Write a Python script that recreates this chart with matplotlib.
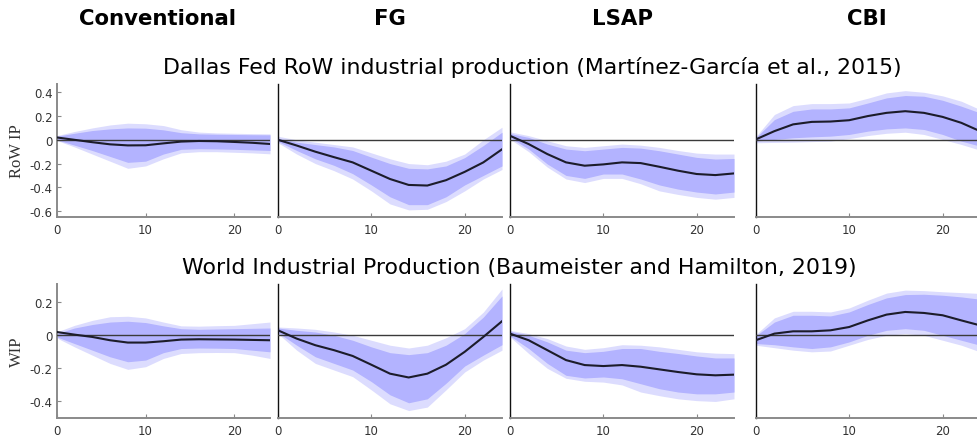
import matplotlib
matplotlib.use("Agg")
import matplotlib.pyplot as plt

# Horizons at which responses are reported
horizons = [0, 2, 4, 6, 8, 10, 12, 14, 16, 18, 20, 22, 24]

shocks = ["Conventional", "FG", "LSAP", "CBI"]
row_titles = ["Dallas Fed RoW industrial production (Martínez-García et al., 2015)",
              "World Industrial Production (Baumeister and Hamilton, 2019)"]
row_ylabels = ["RoW IP", "WIP"]

# ---- RoW IP responses: median, 68% band, 90% band ----
rowip_conv_med = [0.02, 0.0, -0.02, -0.038, -0.047, -0.046, -0.03, -0.015, -0.01, -0.012, -0.018, -0.025, -0.035]
rowip_conv_in_lo = [0.0, -0.045, -0.09, -0.14, -0.19, -0.18, -0.12, -0.08, -0.075, -0.077, -0.08, -0.085, -0.09]
rowip_conv_in_hi = [0.03, 0.055, 0.078, 0.092, 0.10, 0.098, 0.084, 0.06, 0.05, 0.047, 0.045, 0.043, 0.042]
rowip_conv_out_lo = [-0.005, -0.06, -0.12, -0.18, -0.24, -0.22, -0.16, -0.11, -0.10, -0.10, -0.105, -0.11, -0.118]
rowip_conv_out_hi = [0.035, 0.07, 0.10, 0.125, 0.14, 0.135, 0.12, 0.085, 0.065, 0.058, 0.055, 0.052, 0.05]

rowip_fg_med = [0.0, -0.048, -0.10, -0.146, -0.19, -0.26, -0.33, -0.38, -0.385, -0.34, -0.27, -0.19, -0.08]
rowip_fg_in_lo = [-0.014, -0.09, -0.16, -0.215, -0.285, -0.38, -0.48, -0.546, -0.546, -0.48, -0.38, -0.30, -0.22]
rowip_fg_in_hi = [0.014, -0.02, -0.04, -0.06, -0.09, -0.146, -0.20, -0.24, -0.245, -0.22, -0.15, -0.048, 0.064]
rowip_fg_out_lo = [-0.025, -0.12, -0.20, -0.26, -0.33, -0.43, -0.54, -0.59, -0.585, -0.52, -0.43, -0.33, -0.25]
rowip_fg_out_hi = [0.03, 0.0, -0.02, -0.04, -0.06, -0.11, -0.16, -0.20, -0.21, -0.18, -0.12, 0.0, 0.106]

rowip_lsap_med = [0.034, -0.036, -0.12, -0.19, -0.218, -0.207, -0.19, -0.196, -0.227, -0.26, -0.288, -0.297, -0.283]
rowip_lsap_in_lo = [0.02, -0.078, -0.204, -0.30, -0.325, -0.288, -0.288, -0.33, -0.38, -0.415, -0.44, -0.456, -0.44]
rowip_lsap_in_hi = [0.053, 0.02, -0.036, -0.078, -0.092, -0.078, -0.064, -0.07, -0.092, -0.12, -0.148, -0.162, -0.157]
rowip_lsap_out_lo = [0.006, -0.10, -0.23, -0.33, -0.36, -0.325, -0.325, -0.37, -0.43, -0.46, -0.485, -0.50, -0.485]
rowip_lsap_out_hi = [0.067, 0.035, -0.008, -0.05, -0.064, -0.05, -0.036, -0.045, -0.064, -0.09, -0.112, -0.12, -0.12]

rowip_cbi_med = [0.003, 0.073, 0.13, 0.151, 0.154, 0.165, 0.20, 0.227, 0.241, 0.227, 0.193, 0.143, 0.073]
rowip_cbi_in_lo = [-0.011, 0.003, 0.017, 0.025, 0.031, 0.045, 0.073, 0.092, 0.10, 0.087, 0.045, -0.011, -0.053]
rowip_cbi_in_hi = [0.017, 0.17, 0.24, 0.26, 0.26, 0.269, 0.31, 0.353, 0.373, 0.367, 0.333, 0.283, 0.227]
rowip_cbi_out_lo = [-0.025, -0.022, -0.02, -0.015, -0.011, 0.01, 0.036, 0.055, 0.064, 0.045, 0.003, -0.039, -0.087]
rowip_cbi_out_hi = [0.025, 0.213, 0.288, 0.305, 0.305, 0.31, 0.35, 0.395, 0.414, 0.40, 0.37, 0.325, 0.255]

# ---- WIP responses: median, 68% band, 90% band ----
wip_conv_med = [0.02, 0.004, -0.01, -0.03, -0.044, -0.044, -0.036, -0.026, -0.024, -0.025, -0.026, -0.028, -0.03]
wip_conv_in_lo = [-0.01, -0.05, -0.09, -0.13, -0.16, -0.15, -0.105, -0.08, -0.077, -0.078, -0.08, -0.09, -0.10]
wip_conv_in_hi = [0.01, 0.044, 0.065, 0.08, 0.085, 0.077, 0.057, 0.04, 0.036, 0.038, 0.04, 0.042, 0.044]
wip_conv_out_lo = [-0.016, -0.07, -0.12, -0.17, -0.206, -0.19, -0.14, -0.11, -0.105, -0.104, -0.105, -0.12, -0.14]
wip_conv_out_hi = [0.02, 0.06, 0.09, 0.112, 0.115, 0.105, 0.08, 0.057, 0.055, 0.058, 0.06, 0.07, 0.08]

wip_fg_med = [0.03, -0.02, -0.06, -0.09, -0.125, -0.178, -0.232, -0.255, -0.232, -0.178, -0.10, -0.01, 0.085]
wip_fg_in_lo = [0.016, -0.06, -0.13, -0.17, -0.21, -0.28, -0.36, -0.408, -0.384, -0.29, -0.186, -0.12, -0.057]
wip_fg_in_hi = [0.044, 0.03, 0.02, 0.0, -0.03, -0.07, -0.105, -0.117, -0.105, -0.06, 0.01, 0.11, 0.238]
wip_fg_out_lo = [0.01, -0.09, -0.17, -0.21, -0.25, -0.33, -0.414, -0.455, -0.434, -0.33, -0.222, -0.15, -0.09]
wip_fg_out_hi = [0.05, 0.044, 0.036, 0.02, 0.0, -0.03, -0.06, -0.077, -0.06, -0.015, 0.04, 0.14, 0.28]

wip_lsap_med = [0.01, -0.03, -0.09, -0.15, -0.18, -0.186, -0.18, -0.19, -0.206, -0.222, -0.236, -0.242, -0.238]
wip_lsap_in_lo = [-0.004, -0.08, -0.17, -0.242, -0.258, -0.252, -0.263, -0.293, -0.323, -0.343, -0.354, -0.354, -0.343]
wip_lsap_in_hi = [0.024, 0.0, -0.04, -0.09, -0.105, -0.097, -0.08, -0.08, -0.097, -0.11, -0.125, -0.137, -0.137]
wip_lsap_out_lo = [-0.01, -0.11, -0.20, -0.26, -0.278, -0.283, -0.30, -0.343, -0.365, -0.384, -0.395, -0.40, -0.384]
wip_lsap_out_hi = [0.03, 0.01, -0.02, -0.065, -0.085, -0.075, -0.057, -0.06, -0.07, -0.085, -0.10, -0.108, -0.111]

wip_cbi_med = [-0.03, 0.01, 0.024, 0.024, 0.03, 0.05, 0.09, 0.125, 0.141, 0.135, 0.121, 0.09, 0.06]
wip_cbi_in_lo = [-0.05, -0.057, -0.07, -0.08, -0.07, -0.04, 0.0, 0.03, 0.04, 0.03, 0.0, -0.03, -0.06]
wip_cbi_in_hi = [-0.004, 0.08, 0.121, 0.121, 0.117, 0.141, 0.186, 0.226, 0.246, 0.248, 0.242, 0.232, 0.218]
wip_cbi_out_lo = [-0.06, -0.075, -0.09, -0.10, -0.095, -0.06, -0.025, 0.0, 0.01, 0.0, -0.03, -0.06, -0.10]
wip_cbi_out_hi = [0.004, 0.105, 0.145, 0.145, 0.141, 0.165, 0.212, 0.255, 0.273, 0.27, 0.263, 0.258, 0.253]

rows = [
    [
        (rowip_conv_med, rowip_conv_in_lo, rowip_conv_in_hi, rowip_conv_out_lo, rowip_conv_out_hi),
        (rowip_fg_med, rowip_fg_in_lo, rowip_fg_in_hi, rowip_fg_out_lo, rowip_fg_out_hi),
        (rowip_lsap_med, rowip_lsap_in_lo, rowip_lsap_in_hi, rowip_lsap_out_lo, rowip_lsap_out_hi),
        (rowip_cbi_med, rowip_cbi_in_lo, rowip_cbi_in_hi, rowip_cbi_out_lo, rowip_cbi_out_hi),
    ],
    [
        (wip_conv_med, wip_conv_in_lo, wip_conv_in_hi, wip_conv_out_lo, wip_conv_out_hi),
        (wip_fg_med, wip_fg_in_lo, wip_fg_in_hi, wip_fg_out_lo, wip_fg_out_hi),
        (wip_lsap_med, wip_lsap_in_lo, wip_lsap_in_hi, wip_lsap_out_lo, wip_lsap_out_hi),
        (wip_cbi_med, wip_cbi_in_lo, wip_cbi_in_hi, wip_cbi_out_lo, wip_cbi_out_hi),
    ],
]

row_ylims = [(-0.65, 0.47), (-0.5, 0.31)]
row_yticks = [[-0.6, -0.4, -0.2, 0, 0.2, 0.4], [-0.4, -0.2, 0, 0.2]]

W, H = 977, 439
fig = plt.figure(figsize=(W / 100, H / 100), dpi=100)

col_px = [(56.7, 270.0), (278.0, 502.0), (510.0, 734.0), (755.7, 980.0)]
row_px = [(85.0, 218.0), (285.0, 419.0)]

inner_col = "#b3b3ff"
outer_col = "#dcdcfe"
axis_grey = "#8a8a8a"

for r in range(2):
    y0, y1 = row_px[r]
    for c in range(4):
        x0, x1 = col_px[c]
        ax = fig.add_axes([x0 / W, 1 - y1 / H, (x1 - x0) / W, (y1 - y0) / H])
        med, ilo, ihi, olo, ohi = rows[r][c]
        ax.fill_between(horizons, olo, ohi, color=outer_col, lw=0)
        ax.fill_between(horizons, ilo, ihi, color=inner_col, lw=0)
        ax.axhline(0, color="#3a3a3a", lw=1.0, zorder=3)
        ax.plot(horizons, med, color="#1c1c2a", lw=1.5, zorder=4)
        ax.set_xlim(0, 24)
        ax.set_ylim(*row_ylims[r])
        ax.set_xticks([0, 10, 20])
        ax.spines["top"].set_visible(False)
        ax.spines["right"].set_visible(False)
        ax.spines["bottom"].set_color(axis_grey)
        ax.spines["bottom"].set_linewidth(1.4)
        ax.tick_params(axis="x", direction="in", length=3, color=axis_grey,
                       labelsize=8.5, labelcolor="#333333", pad=4)
        if c == 0:
            ax.spines["left"].set_color(axis_grey)
            ax.spines["left"].set_linewidth(1.4)
            ax.set_yticks(row_yticks[r])
            ax.set_yticklabels([("%g" % v) for v in row_yticks[r]])
            ax.tick_params(axis="y", direction="in", length=3, color=axis_grey,
                           labelsize=8.5, labelcolor="#333333", pad=3)
            ax.set_ylabel(row_ylabels[r], family="Liberation Serif", fontsize=12,
                          color="#333333", labelpad=3)
        else:
            ax.spines["left"].set_color("#111111")
            ax.spines["left"].set_linewidth(1.0)
            ax.set_yticks([])

# column headers
col_centres = [157, 390, 622, 867]
for name, xc in zip(shocks, col_centres):
    fig.text(xc / W, 1 - 19 / H, name, ha="center", va="center",
             fontsize=15.3, fontweight="bold", color="black")

# row headers
fig.text(532 / W, 1 - 67 / H, row_titles[0], ha="center", va="center", fontsize=15.8)
fig.text(519 / W, 1 - 268 / H, row_titles[1], ha="center", va="center", fontsize=15.8)

fig.savefig("out.png", dpi=100)
